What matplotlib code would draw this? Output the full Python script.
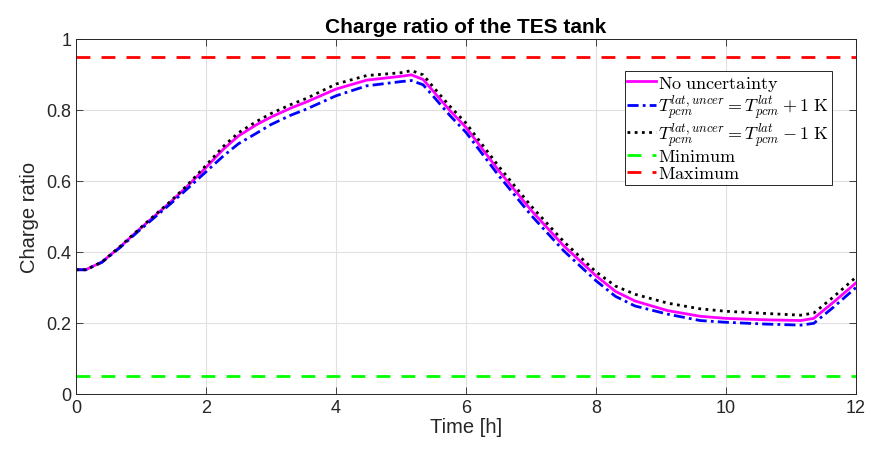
import matplotlib
matplotlib.use("Agg")
import matplotlib.pyplot as plt

# Zeitpunkte [h] und Ladegrad
t = [0, 0.15, 0.4, 0.7, 0.95, 1.2, 1.45, 1.7, 2.0, 2.27, 2.5, 2.78, 3.0, 3.3, 3.55, 4.0,
     4.47, 5.0, 5.16, 5.34, 5.5, 5.75, 6.0, 6.5, 7.0, 7.5, 8.0, 8.3, 8.6, 9.1, 9.6, 10.0,
     10.6, 11.15, 11.35, 11.65, 12.0]
soc_nominal = [0.350, 0.350, 0.372, 0.418, 0.460, 0.500, 0.540, 0.583, 0.638, 0.690, 0.727,
               0.759, 0.780, 0.805, 0.823, 0.859, 0.884, 0.895, 0.899, 0.886, 0.852, 0.799,
               0.751, 0.630, 0.518, 0.418, 0.333, 0.289, 0.262, 0.235, 0.219, 0.213, 0.209,
               0.207, 0.213, 0.258, 0.313]
soc_plus = [0.350, 0.350, 0.371, 0.416, 0.457, 0.496, 0.535, 0.576, 0.626, 0.671, 0.705,
            0.735, 0.759, 0.785, 0.803, 0.840, 0.868, 0.880, 0.883, 0.871, 0.838, 0.785,
            0.737, 0.616, 0.504, 0.404, 0.319, 0.275, 0.248, 0.225, 0.207, 0.202, 0.197,
            0.194, 0.199, 0.244, 0.300]
soc_minus = [0.350, 0.350, 0.372, 0.419, 0.461, 0.502, 0.542, 0.586, 0.644, 0.698, 0.736,
             0.768, 0.790, 0.815, 0.833, 0.873, 0.897, 0.905, 0.911, 0.899, 0.864, 0.811,
             0.763, 0.642, 0.530, 0.430, 0.344, 0.304, 0.281, 0.256, 0.240, 0.233, 0.227,
             0.222, 0.228, 0.273, 0.329]
soc_min = 0.05
soc_max = 0.95

plt.rcParams["mathtext.fontset"] = "cm"
plt.rcParams["font.family"] = ["Liberation Sans", "DejaVu Sans"]

fig = plt.figure(figsize=(8.75, 4.52), dpi=100)
ax = fig.add_axes([76 / 875, 1 - 395 / 452, 780 / 875, 355 / 452])

ax.plot(t, soc_nominal, color="magenta", lw=2, label=r"$\mathrm{No\ uncertainty}$")
ax.plot(t, soc_plus, color="blue", lw=2, ls=(0, (4, 1.5, 1, 1.5)),
        label=r"$T_{pcm}^{lat,uncer} = T_{pcm}^{lat} + 1\ \mathrm{K}$")
ax.plot(t, soc_minus, color="black", lw=2, ls=(0, (1, 1.6)),
        label=r"$T_{pcm}^{lat,uncer} = T_{pcm}^{lat} - 1\ \mathrm{K}$")
ax.plot([0, 12], [soc_min, soc_min], color="#00ff00", lw=2, ls=(0, (5, 4)),
        label=r"$\mathrm{Minimum}$")
ax.plot([0, 12], [soc_max, soc_max], color="red", lw=2, ls=(0, (5, 4)),
        label=r"$\mathrm{Maximum}$")

ax.set_xlim(0, 12)
ax.set_ylim(0, 1)
ax.set_xticks(range(0, 13, 2))
ax.set_yticks([0, 0.2, 0.4, 0.6, 0.8, 1.0])
ax.set_yticklabels(["0", "0.2", "0.4", "0.6", "0.8", "1"])
ax.tick_params(direction="in", top=True, right=True, labelsize=13, colors="0.15",
               length=5, width=0.6)
ax.grid(True, color="0.88", lw=0.8)
for s in ax.spines.values():
    s.set_color("0.15")
    s.set_linewidth(0.7)

ax.set_xlabel("Time [h]", fontsize=14.5, color="0.15", labelpad=1)
ax.set_ylabel("Charge ratio", fontsize=14.5, color="0.15", labelpad=5)
ax.set_title("Charge ratio of the TES tank", fontsize=15, fontweight="bold", pad=5)

leg = ax.legend(loc="upper right", bbox_to_anchor=(0.969, 0.91), borderaxespad=0,
                fancybox=False, edgecolor="0.15", framealpha=1, fontsize=13,
                handlelength=1.6, handletextpad=0.1, borderpad=0.15, labelspacing=0.0)
leg.get_frame().set_linewidth(0.7)

fig.savefig("out.png", dpi=100)
